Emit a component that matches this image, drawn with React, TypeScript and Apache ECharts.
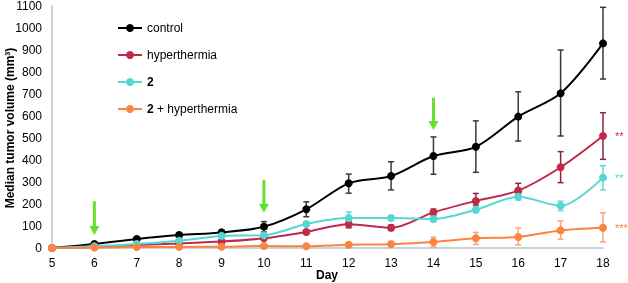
import React, { useEffect, useRef } from "react";
import * as echarts from "echarts";

const days = [5, 6, 7, 8, 9, 10, 11, 12, 13, 14, 15, 16, 17, 18];

const control = [0, 18, 41, 59, 71, 97, 176, 294, 327, 418, 460, 597, 703, 930];
const controlLow = [0, 12, 35, 50, 60, 73, 142, 249, 264, 335, 344, 486, 509, 768];
const controlHigh = [0, 24, 48, 68, 82, 120, 210, 336, 392, 505, 578, 710, 900, 1094];

const hyper = [0, 5, 14, 21, 29, 44, 73, 108, 92, 162, 214, 261, 367, 509];
const hyperLow = [0, 3, 10, 16, 22, 36, 63, 92, 80, 147, 195, 248, 297, 403];
const hyperHigh = [0, 7, 18, 26, 36, 52, 83, 124, 104, 177, 248, 294, 438, 615];

const cmpd = [0, 8, 18, 33, 55, 58, 109, 136, 136, 132, 174, 233, 192, 320];
const cmpdLow = [0, 5, 14, 27, 48, 50, 100, 122, 126, 120, 162, 218, 170, 264];
const cmpdHigh = [0, 11, 22, 39, 62, 66, 118, 164, 146, 144, 186, 250, 213, 374];

const combo = [0, 2, 4, 5, 6, 9, 8, 15, 17, 27, 44, 50, 80, 92];
const comboLow = [0, 0, 1, 2, 3, 5, 3, 10, 10, 5, 16, 14, 40, 27];
const comboHigh = [0, 4, 7, 8, 10, 13, 14, 20, 30, 49, 71, 91, 123, 160];

const seriesNames = ["control", "hyperthermia", "2", "2 + hyperthermia"];
const significance = ["", "**", "**", "***"];
// treatment arrows: [day, top value, tip value]
const arrowDays = [6, 10, 14];
const arrowTop = [213, 309, 683];
const arrowTip = [59, 160, 536];

const yTicks = [0, 100, 200, 300, 400, 500, 600, 700, 800, 900, 1000, 1100];
const xTitle = "Day";
const yTitle = "Median tumor volume (mm³)";

const colors = ["#000000", "#c0294a", "#55d8d2", "#fa8440"];
const errColors = ["#3a3a3a", "#8e2440", "#62dcd6", "#f8a878"];
const FONT = "Liberation Sans, Arial, sans-serif";

export default function App() {
  const ref = useRef<HTMLDivElement>(null);
  useEffect(() => {
    if (!ref.current) return;
    const chart = echarts.init(ref.current, null, { renderer: "svg" });
    const values = [control, hyper, cmpd, combo];
    const lows = [controlLow, hyperLow, cmpdLow, comboLow];
    const highs = [controlHigh, hyperHigh, cmpdHigh, comboHigh];

    const lineSeries: any[] = seriesNames.map((name, si) => ({
      name,
      type: "line",
      smooth: 0.3,
      symbol: "circle",
      symbolSize: 8,
      z: 3 + si,
      itemStyle: { color: colors[si] },
      lineStyle: { color: colors[si], width: 2 },
      data: days.map((d, i) => {
        const v = [d, values[si][i]];
        if (i === days.length - 1 && significance[si]) {
          return {
            value: v,
            label: {
              show: true,
              formatter: significance[si],
              position: "right",
              distance: 8,
              color: colors[si],
              fontSize: 11,
              fontFamily: FONT,
            },
          };
        }
        return v;
      }),
    }));

    const errSeries: any[] = seriesNames.map((name, si) => ({
      name: name + "-err",
      type: "custom",
      z: 2 + si,
      silent: true,
      data: days.map((d, i) => [d, lows[si][i], highs[si][i]]),
      renderItem: (params: any, api: any) => {
        const x = api.value(0);
        const lo = api.coord([x, api.value(1)]);
        const hi = api.coord([x, api.value(2)]);
        const w = 3;
        const style = { stroke: errColors[si], lineWidth: 1.5 };
        return {
          type: "group",
          children: [
            { type: "line", shape: { x1: lo[0], y1: lo[1], x2: hi[0], y2: hi[1] }, style },
            { type: "line", shape: { x1: lo[0] - w, y1: lo[1], x2: lo[0] + w, y2: lo[1] }, style },
            { type: "line", shape: { x1: hi[0] - w, y1: hi[1], x2: hi[0] + w, y2: hi[1] }, style },
          ],
        };
      },
    }));

    const arrowSeries = {
      type: "custom",
      name: "arrows",
      z: 10,
      silent: true,
      data: arrowDays.map((d, i) => [d, arrowTop[i], arrowTip[i]]),
      renderItem: (params: any, api: any) => {
        const x = api.value(0);
        const top = api.coord([x, api.value(1)]);
        const tip = api.coord([x, api.value(2)]);
        const hh = 9;
        const hw = 5;
        return {
          type: "group",
          children: [
            {
              type: "line",
              shape: { x1: top[0], y1: top[1], x2: tip[0], y2: tip[1] - hh + 2 },
              style: { stroke: "#66e02a", lineWidth: 3 },
            },
            {
              type: "polygon",
              shape: {
                points: [
                  [tip[0] - hw, tip[1] - hh],
                  [tip[0] + hw, tip[1] - hh],
                  [tip[0], tip[1]],
                ],
              },
              style: { fill: "#66e02a" },
            },
          ],
        };
      },
    };

    chart.setOption({
      animation: false,
      textStyle: { fontFamily: FONT },
      grid: {
        left: 52,
        right: 25,
        top: 6,
        bottom: 35,
        containLabel: false,
        outerBoundsMode: "none",
      },
      graphic: [
        {
          type: "text",
          x: 10,
          y: 128,
          rotation: Math.PI / 2,
          style: {
            text: yTitle,
            textAlign: "center",
            textVerticalAlign: "middle",
            fontWeight: "bold",
            fontSize: 12,
            fontFamily: FONT,
            fill: "#000",
          },
        },
        {
          type: "text",
          x: 327,
          y: 275,
          style: {
            text: xTitle,
            textAlign: "center",
            textVerticalAlign: "middle",
            fontWeight: "bold",
            fontSize: 12,
            fontFamily: FONT,
            fill: "#000",
          },
        },
      ],
      legend: {
        orient: "vertical",
        left: 112,
        top: 17,
        itemWidth: 24,
        itemHeight: 10,
        itemGap: 15,
        data: seriesNames,
        textStyle: {
          fontSize: 12,
          color: "#000",
          fontFamily: FONT,
          rich: { b: { fontWeight: "bold", fontSize: 12, color: "#000", fontFamily: FONT } },
        },
        formatter: (name: string) => {
          if (name === "2") return "{b|2}";
          if (name === "2 + hyperthermia") return "{b|2} + hyperthermia";
          return name;
        },
      },
      xAxis: {
        type: "value",
        min: 5,
        max: 18,
        interval: 1,
        axisLine: { show: true, lineStyle: { color: "#b4c4cc", width: 1.5 } },
        axisTick: { show: false },
        splitLine: { show: false },
        axisLabel: { fontSize: 12, color: "#000", margin: 9, fontFamily: FONT },
      },
      yAxis: {
        type: "value",
        min: yTicks[0],
        max: yTicks[yTicks.length - 1],
        interval: 100,
        axisLine: { show: true, lineStyle: { color: "#b4c4cc", width: 1.5 } },
        axisTick: { show: false },
        splitLine: { show: false },
        axisLabel: {
          fontSize: 12,
          color: "#000",
          margin: 10,
          fontFamily: FONT,
          formatter: (v: number) => String(v),
        },
      },
      series: [...errSeries, ...lineSeries, arrowSeries],
    });
    return () => chart.dispose();
  }, []);
  return (
    <div
      ref={ref}
      style={{ position: "fixed", left: 0, top: 0, width: 628, height: 283 }}
    />
  );
}
